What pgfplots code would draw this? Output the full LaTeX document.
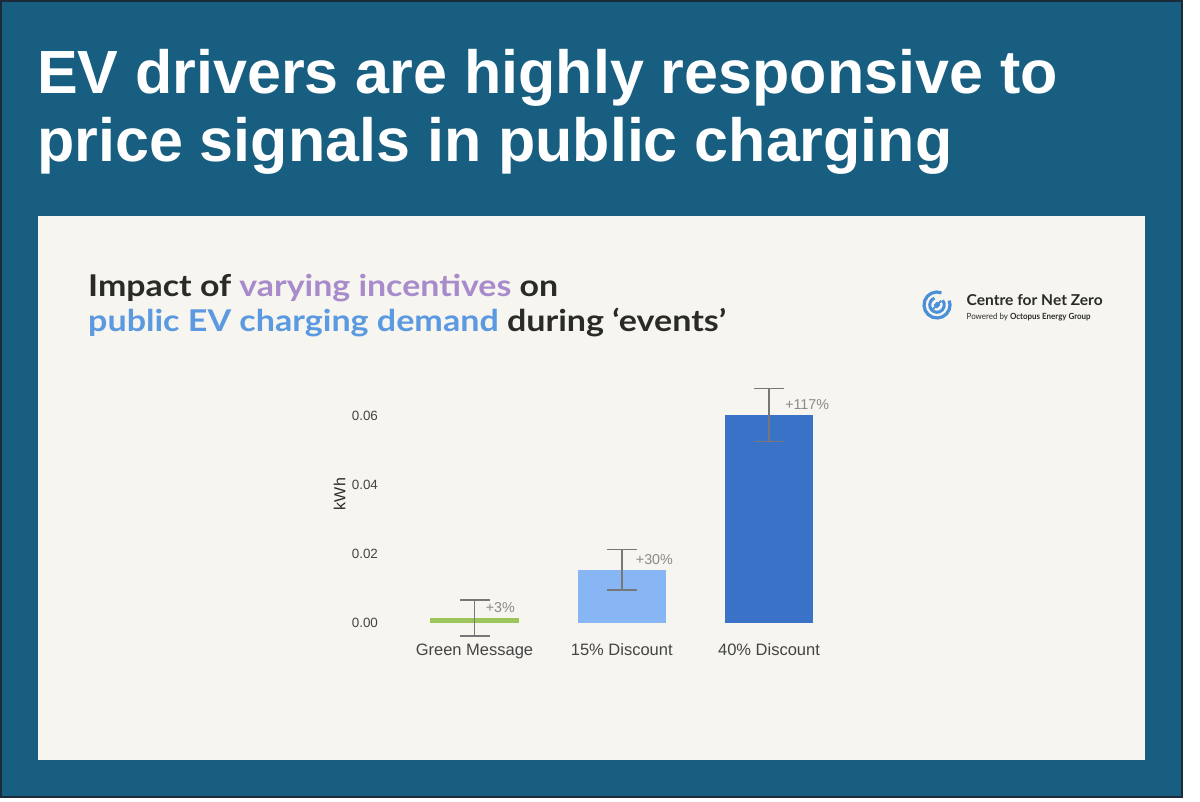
\documentclass[border=0pt]{standalone}
\usepackage{pgfplots}
\pgfplotsset{compat=1.18}
\usepackage{fontspec}
\usepackage{graphicx}
\setmainfont{Liberation Sans}
\newfontfamily\latofont{Lato}
\definecolor{bgblue}{HTML}{175E80}
\definecolor{borderdark}{HTML}{1B2B3A}
\definecolor{panel}{HTML}{F6F5F0}
\definecolor{barGreen}{HTML}{9CC55C}
\definecolor{barLight}{HTML}{88B6F4}
\definecolor{barDark}{HTML}{3A72C8}
\definecolor{errgray}{HTML}{777777}
\definecolor{annogray}{HTML}{8A8A8A}
\definecolor{ticktext}{HTML}{444444}
\definecolor{subdark}{HTML}{2A2B27}
\definecolor{subpurple}{HTML}{A88BCB}
\definecolor{subblue}{HTML}{5B99E0}
\definecolor{logoblue}{HTML}{4A90D9}
\begin{document}
\begin{tikzpicture}[x=1pt,y=1pt]
\useasboundingbox (0,0) rectangle (1200,801);
\fill[white] (0,0) rectangle (1200,801);
\fill[bgblue] (0,3) rectangle (1183,801);
\draw[borderdark, line width=2pt] (1,4) rectangle (1182,800);
\fill[panel] (38,41) rectangle (1145,585);
% main title
\node[anchor=base west, inner sep=0pt, text=white, font=\fontsize{61}{69}\selectfont\bfseries] at (37,707.7) {EV drivers are highly responsive to};
\node[anchor=base west, inner sep=0pt, text=white, font=\fontsize{61}{69}\selectfont\bfseries] at (37,639) {price signals in public charging};
% subtitle
\node[anchor=base west, inner sep=0pt, font=\latofont\bfseries\fontsize{30}{34}\selectfont] at (88,504.3) {\resizebox{470pt}{\height}{\textcolor{subdark}{Impact of} \textcolor{subpurple}{varying incentives} \textcolor{subdark}{on}}};
\node[anchor=base west, inner sep=0pt, font=\latofont\bfseries\fontsize{30}{34}\selectfont] at (88,469.5) {\resizebox{638pt}{\height}{\textcolor{subblue}{public EV charging demand} \textcolor{subdark}{during ‘events’}}};
% logo
\begin{scope}[shift={(937,496)}, logoblue]
\draw[line width=3.2pt] (70:13) arc (70:380:13);
\draw[line width=3pt] (110:7.3) arc (110:400:7.3);
\draw[line width=2.2pt] (0,0) circle (1.9);
\draw[line width=2pt] (-4.2,-4.2) -- (4.2,4.2);
\end{scope}
\node[anchor=base west, inner sep=0pt, text=subdark, font=\latofont\bfseries\fontsize{15}{17}\selectfont] at (966.5,495.3) {\resizebox{136pt}{\height}{Centre for Net Zero}};
\node[anchor=base west, inner sep=0pt, text=subdark, font=\latofont\fontsize{8.5}{10}\selectfont] at (966.5,481.7) {\resizebox{124pt}{\height}{Powered by {\bfseries Octopus Energy Group}}};
\begin{axis}[
  at={(386.15pt,167.95pt)}, anchor=south west,
  scale only axis, width=471.2pt, height=251.85pt,
  xmin=-0.6, xmax=2.6, ymin=-0.003, ymax=0.07,
  axis line style={draw=none}, major tick length=0pt, clip=false,
  scaled y ticks=false,
  xtick={0,1,2}, xticklabels={Green Message,15\% Discount,40\% Discount},
  ytick={0,0.02,0.04,0.06}, yticklabels={0.00,0.02,0.04,0.06},
  xticklabel style={anchor=base, inner sep=0pt, yshift=-22pt, text=ticktext, font=\fontsize{16.5}{19}\selectfont},
  yticklabel style={anchor=east, inner sep=0pt, xshift=-8pt, text=ticktext, font=\fontsize{13.4}{15}\selectfont},
  ylabel={kWh},
  ylabel style={at={(axis description cs:-0.099,0.552)}, anchor=center, text=subdark, font=\fontsize{16}{18}\selectfont},
  error bars/error bar style={line width=1.8pt, draw=errgray},
  error bars/error mark options={rotate=90, line width=1.8pt, draw=errgray, mark size=15pt},
]
\addplot[ybar, bar shift=0pt, bar width=88.5pt, fill=barGreen, draw=none,
  error bars/.cd, y dir=both, y explicit]
  coordinates {(0,0.00145) +- (0,0.0052)};
\addplot[ybar, bar shift=0pt, bar width=88.5pt, fill=barLight, draw=none,
  error bars/.cd, y dir=both, y explicit]
  coordinates {(1,0.0153) +- (0,0.0059)};
\addplot[ybar, bar shift=0pt, bar width=88.5pt, fill=barDark, draw=none,
  error bars/.cd, y dir=both, y explicit]
  coordinates {(2,0.0602) +- (0,0.0077)};
\addplot[draw=none, mark=none, nodes near coords, point meta=explicit symbolic,
  nodes near coords style={anchor=west, inner sep=0pt, text=annogray, font=\fontsize{14.3}{16}\selectfont}]
  coordinates {(0.076,0.00426)[+3\%] (1.095,0.01817)[+30\%] (2.109,0.0631)[+117\%]};
\end{axis}
\end{tikzpicture}
\end{document}
